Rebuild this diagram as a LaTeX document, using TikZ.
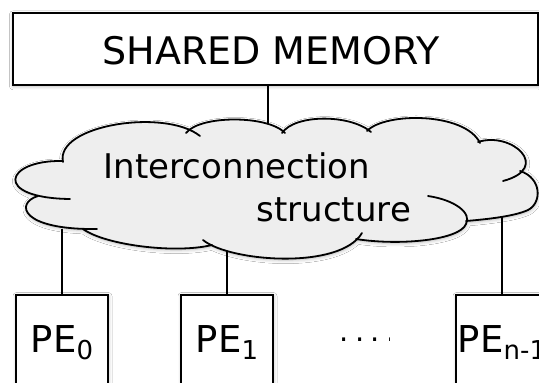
\documentclass[tikz,border=0pt]{standalone}
\usepackage{fontspec}
\setmainfont{DejaVu Sans}
\usetikzlibrary{shadows.blur}

% subscript of a processing element label
\newcommand\pesub[1]{\raisebox{-7.5pt}{\fontsize{26}{26}\selectfont #1}}

\definecolor{cloudfill}{RGB}{238,238,238}

\tikzset{
  softshadow/.style={blur shadow={shadow xshift=0.5pt, shadow yshift=-1.5pt,
      shadow blur radius=3.5pt, shadow opacity=28}},
  membox/.style={draw=black, fill=white, line width=2pt, softshadow,
      minimum width=525.5pt, minimum height=72pt, inner sep=0pt},
  pebox/.style={draw=black, fill=white, line width=2pt, softshadow,
      minimum width=92pt, minimum height=130pt, inner sep=0pt, anchor=north},
  bigtext/.style={font=\fontsize{38}{44}\selectfont, inner sep=0pt},
  cloudtext/.style={font=\fontsize{34}{40}\selectfont, inner sep=0pt, anchor=base west},
  petext/.style={font=\fontsize{37}{44}\selectfont, inner sep=0pt, anchor=base},
  dotstext/.style={font=\fontsize{29}{32}\selectfont, inner sep=0pt, anchor=base west},
  cloudline/.style={line width=1.8pt, line cap=round},
  link/.style={line width=1.8pt},
}

\begin{document}
\begin{tikzpicture}[x=1pt, y=-1pt]
  \useasboundingbox (0,0) rectangle (539,383);
  \clip (0,0) rectangle (539,383);
  \fill[white] (0,0) rectangle (539,383);

  % shared memory
  \node[membox] (mem) at (275.25,48.8) {};
  \node[bigtext, anchor=base west] (memlabel) at (102.3,64.6) {SHARED MEMORY};

  % interconnection cloud: filled body
  \fill[cloudfill, softshadow]
    (63,162) .. controls (55,125) and (165,108) .. (200,136)
    -- (186,133) .. controls (200,115) and (268,115) .. (285,133)
    -- (282,133) .. controls (295,114) and (350,114) .. (371,132)
    -- (367,131) .. controls (385,112) and (465,112) .. (480,143)
    -- (478,142) .. controls (512,131) and (552,168) .. (503,181)
    -- (520,171) .. controls (542,178) and (542,203) .. (528,210)
                 .. controls (515,216) and (490,219) .. (466,221)
    -- (428,196) .. controls (455,200) and (472,213) .. (466,224)
                 .. controls (460,240) and (400,246) .. (356,239)
    -- (362,233) .. controls (340,270) and (230,262) .. (203,240)
    -- (212,245) .. controls (175,254) and (105,245) .. (83,229)
    -- (97,229) .. controls (20,230) and (15,203) .. (38,196)
    -- (70,199) .. controls (-8,198) and (5,160) .. (62,161)
    -- cycle;

  % interconnection cloud: individual puffs
  \draw[cloudline] (63,162) .. controls (55,125) and (165,108) .. (200,136);
  \draw[cloudline] (186,133) .. controls (200,115) and (268,115) .. (285,133);
  \draw[cloudline] (282,133) .. controls (295,114) and (350,114) .. (371,132);
  \draw[cloudline] (367,131) .. controls (385,112) and (465,112) .. (480,143);
  \draw[cloudline] (478,142) .. controls (512,131) and (552,168) .. (503,181);
  \draw[cloudline] (520,171) .. controls (542,178) and (542,203) .. (528,210)
                 .. controls (515,216) and (490,219) .. (466,221);
  \draw[cloudline] (428,196) .. controls (455,200) and (472,213) .. (466,224)
                 .. controls (460,240) and (400,246) .. (356,239);
  \draw[cloudline] (362,233) .. controls (340,270) and (230,262) .. (203,240);
  \draw[cloudline] (212,245) .. controls (175,254) and (105,245) .. (83,229);
  \draw[cloudline] (97,229) .. controls (20,230) and (15,203) .. (38,196);
  \draw[cloudline] (70,199) .. controls (-8,198) and (5,160) .. (62,161);

  \node[cloudtext] (ictext) at (103.7,178.3) {Interconnection};
  \node[cloudtext] (sttext) at (256.4,221.7) {structure};

  % attachment points on the cloud outline
  \coordinate (ctop) at (268,124);
  \coordinate (c0) at (62,228.5);
  \coordinate (c1) at (227,251.5);
  \coordinate (c2) at (502,217);

  % processing elements
  \node[pebox] (pe0) at (62,293.5) {};
  \node[pebox] (pe1) at (227,293.5) {};
  \node[pebox] (pen) at (502,293.5) {};

  \node[petext] (pe0label) at (62,352) {PE\pesub{0}};
  \node[petext] (pe1label) at (227,352) {PE\pesub{1}};
  \node[petext] (penlabel) at (502,352) {PE\pesub{n-1}};

  \begin{scope}
    \clip (300,300) rectangle (389.3,360);
    \node[dotstext] (dots) at (339.4,341)
      {.\hspace{6.3pt}.\hspace{6.3pt}.\hspace{6.3pt}.};
  \end{scope}

  % links
  \draw[link] (ctop |- mem.south) -- (ctop);
  \draw[link] (c0) -- (pe0.north);
  \draw[link] (c1) -- (pe1.north);
  \draw[link] (c2) -- (pen.north);
\end{tikzpicture}
\end{document}
